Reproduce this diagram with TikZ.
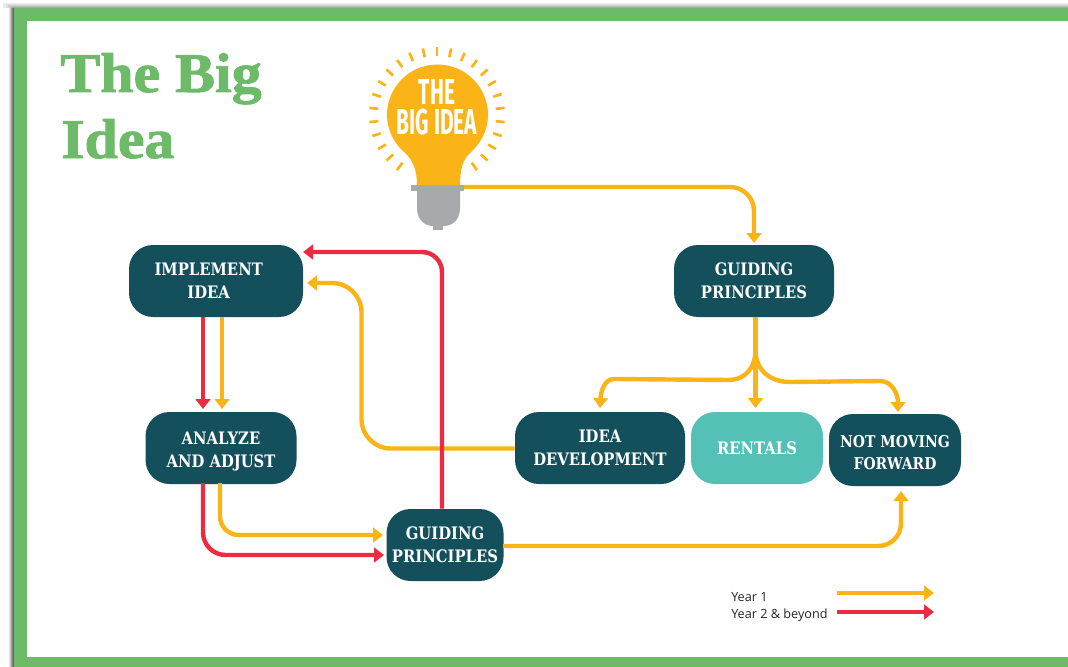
\documentclass[tikz,border=0pt]{standalone}
\usepackage{fontspec}
\setmainfont{DejaVu Serif}
\newfontfamily\titlefont[FakeBold=1.6,FakeStretch=1.07]{Liberation Serif}
\newfontfamily\boxfont[FakeStretch=0.86]{DejaVu Serif}
\newfontfamily\legendfont{Open Sans}
\newfontfamily\bulbfont{Fira Sans}
\usetikzlibrary{arrows.meta}
\definecolor{framegreen}{HTML}{6DBB69}
\definecolor{boxteal}{HTML}{14505C}
\definecolor{lightteal}{HTML}{55C0B6}
\definecolor{flowyellow}{HTML}{FAB418}
\definecolor{flowred}{HTML}{EC2A40}
\definecolor{basegray}{HTML}{A7A9AC}
\tikzset{
  stepbox/.style={rounded corners=18pt,fill=boxteal,text=white,align=center,font=\boxfont\bfseries\fontsize{12.9}{17.3}\selectfont,inner sep=0pt},
  yflow/.style={draw=flowyellow,line width=3.3pt,-{Triangle[length=7.5pt,width=11pt]}},
  rflow/.style={draw=flowred,line width=3.3pt,-{Triangle[length=7.5pt,width=11pt]}},
  raydash/.style={draw=flowyellow,line width=2pt},
  titletext/.style={text=framegreen,font=\titlefont\bfseries\fontsize{42}{42}\selectfont,anchor=base west,inner sep=0pt},
  legendtext/.style={font=\legendfont\fontsize{9.5}{12}\selectfont,text=black!85,anchor=base west,inner sep=0pt},
}
\begin{document}
\begin{tikzpicture}[x=0.75pt,y=-0.75pt]
\useasboundingbox (0,0) rectangle (1068,667);
% soft shadow, left and top of the frame
\fill[black!8] (3,3) rectangle (1068,8);
\fill[black!12] (6,4) rectangle (1068,8);
\fill[black!18] (8,5) rectangle (1068,8);
\fill[black!26] (10,6) rectangle (1068,8);
\fill[black!34] (12,7) rectangle (1068,8);
\fill[black!10] (9,8) rectangle (14,667);
\fill[black!22] (10,8) rectangle (14,667);
\fill[black!36] (11,8) rectangle (14,667);
\fill[black!50] (12,8) rectangle (14,667);
\fill[black!60] (13,8) rectangle (14,667);
\fill[framegreen] (14,8) rectangle (1068,667);
\fill[white] (27,21) rectangle (1068,657);
% title
\node[titletext] (titleone) at (60,92) {The Big};
\node[titletext] (titletwo) at (61,158) {Idea};
% bulb
\fill[flowyellow] (417,186) .. controls (417,170) and (413,160) .. (404,152)
  .. controls (394,143) and (387,130) .. (387,115)
  arc[start angle=180,end angle=360,radius=50.5]
  .. controls (488,130) and (481,143) .. (471,152)
  .. controls (462,160) and (460,170) .. (460,186) -- cycle;
\foreach \k in {-12,...,12}{
  \draw[raydash] ({437+59*cos(90+12*\k)},{115-59*sin(90+12*\k)}) -- ({437+68*cos(90+12*\k)},{115-68*sin(90+12*\k)});
}
\fill[basegray] (433,224) rectangle (443,230);
\fill[basegray] (417,190) -- (460,190) -- (460,208) .. controls (460,219) and (453,226) .. (444,226) -- (433,226) .. controls (424,226) and (417,219) .. (417,208) -- cycle;
\fill[basegray] (411,185) rectangle (464,191);
\node[font=\bulbfont\bfseries\fontsize{27}{22.5}\selectfont,text=white,align=center,inner sep=0pt] (bulbtext) at (437,107)
  {\scalebox{0.58}[1]{THE}\\\scalebox{0.58}[1]{BIG IDEA}};
\coordinate (bulbout) at (464,187);
% boxes
\node[stepbox,minimum width=174pt*0.75,minimum height=72pt*0.75] (implement) at (216,281) {IMPLEMENT\hspace*{11pt}\\IDEA\hspace*{11pt}};
\node[stepbox,minimum width=160pt*0.75,minimum height=72pt*0.75] (guidingtop) at (754,281) {GUIDING\\PRINCIPLES};
\node[stepbox,minimum width=151pt*0.75,minimum height=72pt*0.75] (analyze) at (221,448) {\rule{0pt}{14pt}ANALYZE\\AND ADJUST};
\node[stepbox,minimum width=170pt*0.75,minimum height=72pt*0.75] (ideadev) at (600,448) {IDEA\\DEVELOPMENT};
\node[stepbox,fill=lightteal,minimum width=132pt*0.75,minimum height=72pt*0.75] (rentals) at (757,448) {RENTALS};
\node[stepbox,minimum width=132pt*0.75,minimum height=72pt*0.75,font=\boxfont\bfseries\fontsize{12.2}{16.4}\selectfont] (notmoving) at (895,450) {\rule{0pt}{13pt}NOT MOVING\\FORWARD};
\node[stepbox,minimum width=117pt*0.75,minimum height=72pt*0.75] (guidinglow) at (445,545) {GUIDING\\PRINCIPLES};
% connectors
\draw[yflow,rounded corners=18pt] (bulbout) -- (754,187) -- (754,243);
\draw[yflow] (guidingtop.south -| 755.5,0) -- (755.5,408);
\draw[yflow] (755.5,350) .. controls (755.5,368) and (745,380) .. (728,380) -- (614,379) .. controls (605,379) and (601,390) .. (600,408);
\draw[yflow] (755.5,350) .. controls (755.5,370) and (770,382) .. (790,382) -- (880,381) .. controls (892,381) and (898,394) .. (898,412);
\draw[yflow,rounded corners=22pt] (ideadev.west |- 0,448.5) -- (361.5,448.5) -- (361.5,283) -- (307,283);
\draw[rflow,rounded corners=15pt] (guidinglow.north -| 442,0) -- (442,252) -- (303,252);
\draw[rflow] (203,317) -- (203,409);
\draw[yflow] (222,317) -- (222,409);
\draw[yflow,rounded corners=14pt] (220,483) -- (220,535) -- (383,535);
\draw[rflow,rounded corners=17pt] (203,483) -- (203,555) -- (384,555);
\draw[yflow,rounded corners=17pt] (503,546) -- (901,546) -- (901,491);
% legend
\node[legendtext] (yearone) at (731,601) {Year 1};
\node[legendtext] (yeartwo) at (731,618) {Year 2 \& beyond};
\coordinate (yone) at (837,593);
\coordinate (yoneend) at (934,593);
\coordinate (ytwo) at (837,612);
\coordinate (ytwoend) at (934,612);
\draw[yflow] (yone) -- (yoneend);
\draw[rflow] (ytwo) -- (ytwoend);
\end{tikzpicture}
\end{document}
